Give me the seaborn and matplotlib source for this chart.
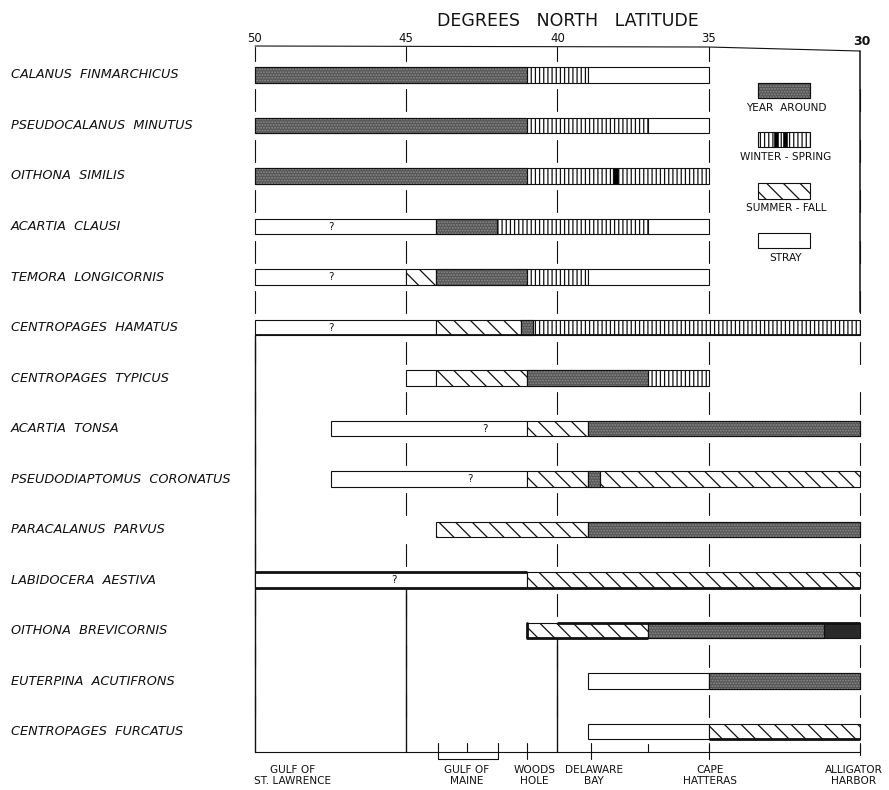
import matplotlib
matplotlib.use("Agg")
import matplotlib.pyplot as plt
import seaborn as sns
import pandas as pd

# ---------------- data ----------------
species = ["CALANUS  FINMARCHICUS", "PSEUDOCALANUS  MINUTUS", "OITHONA  SIMILIS",
           "ACARTIA  CLAUSI", "TEMORA  LONGICORNIS", "CENTROPAGES  HAMATUS",
           "CENTROPAGES  TYPICUS", "ACARTIA  TONSA", "PSEUDODIAPTOMUS  CORONATUS",
           "PARACALANUS  PARVUS", "LABIDOCERA  AESTIVA", "OITHONA  BREVICORNIS",
           "EUTERPINA  ACUTIFRONS", "CENTROPAGES  FURCATUS"]
# latitude boundaries of each segment (north -> south)
breaks = [
    [50, 41, 39, 35],
    [50, 41, 37, 35],
    [50, 41, 38.17, 38.0, 35],
    [50, 44, 42, 37, 35],
    [50, 45, 44, 41, 39, 35],
    [50, 44, 41.2, 40.8, 30],
    [45, 44, 41, 37, 35],
    [47.5, 41, 39, 30],
    [47.5, 41, 39, 38.6, 30],
    [44, 39, 30],
    [50, 41, 30],
    [41, 37, 31.2, 30],
    [39, 35, 30],
    [39, 35, 30],
]
# Y = year around, W = winter-spring, F = summer-fall, S = stray, K = peak (black), D = dark year around
kinds = [
    ["Y", "W", "S"],
    ["Y", "W", "S"],
    ["Y", "W", "K", "W"],
    ["S", "Y", "W", "S"],
    ["S", "F", "Y", "W", "S"],
    ["S", "F", "Y", "W"],
    ["S", "F", "Y", "W"],
    ["S", "F", "Y"],
    ["S", "F", "Y", "F"],
    ["F", "Y"],
    ["S", "F"],
    ["F", "Y", "D"],
    ["S", "Y"],
    ["S", "F"],
]
q_rows = [3, 4, 5, 7, 8, 10]
q_lats = [47.5, 47.5, 47.5, 42.4, 42.9, 45.4]

lat_ticks = [50, 45, 40, 35, 30]
loc_names = ["GULF OF\nST. LAWRENCE", "GULF OF\nMAINE", "WOODS\nHOLE",
             "DELAWARE\nBAY", "CAPE\nHATTERAS", "ALLIGATOR\nHARBOR"]
loc_lats = [50, 43.0, 41.0, 38.9, 35.0, 30.0]
loc_label_lats = [48.75, 43.0, 40.75, 38.8, 34.95, 30.2]

legend_labels = ["YEAR  AROUND", "WINTER - SPRING", "SUMMER - FALL", "STRAY"]
legend_kinds = ["Y", "W", "F", "S"]

# ---------------- style ----------------
sns.set_theme(style="white")
plt.rcParams["font.family"] = ["DejaVu Sans"]
plt.rcParams["hatch.linewidth"] = 0.9

styles = {
    "Y": dict(color="#555555", hatch=None),
    "W": dict(color="white", hatch="||||"),
    "F": dict(color="white", hatch="\\\\"),
    "S": dict(color="white", hatch=None),
    "K": dict(color="black", hatch=None),
    "D": dict(color="#2a2a2a", hatch=None),
}

rows = []
for r, (b, k) in enumerate(zip(breaks, kinds)):
    for i, kind in enumerate(k):
        rows.append(dict(row=r, start=b[i], end=b[i + 1], kind=kind))
seg = pd.DataFrame(rows)

fig = plt.figure(figsize=(8.89, 7.90), dpi=100)
ax = fig.add_axes([0, 0, 1, 1])
ax.set_xlim(58.43, 29.04)
ax.set_ylim(14.158, -1.485)
ax.axis("off")

BH = 0.30
LW = 0.8
ink = "#111111"


def draw_segment(r, start, end, kind, z=3):
    st = styles[kind]
    ax.barh(r, end - start, left=start, height=BH, color=st["color"],
            hatch=st["hatch"], edgecolor=ink, linewidth=LW, zorder=z)
    if kind == "Y":
        # stippled texture
        ax.barh(r, end - start, left=start, height=BH, color="none",
                hatch="......", edgecolor="#8c8c8c", linewidth=0, zorder=z + 0.1)
        ax.barh(r, end - start, left=start, height=BH, color="none",
                edgecolor=ink, linewidth=LW, zorder=z + 0.2)


for _, s in seg.iterrows():
    draw_segment(s.row, s.start, s.end, s.kind)

# thick edges
thick = [(10, 50, 41, -1), (10, 50, 30, 1), (11, 40, 30, -1), (11, 41, 37, 1),
         (13, 35, 30, 1), (5, 50, 30, 1)]
for r, a, b, side in thick:
    ax.plot([a, b], [r + side * BH / 2] * 2, color=ink, lw=2.0 if r != 5 else 1.3,
            zorder=4, solid_capstyle="butt")
ax.plot([41, 41], [11 - BH / 2, 11 + BH / 2], color=ink, lw=2.0, zorder=4)

# question marks
for r, q in zip(q_rows, q_lats):
    ax.text(q, r, "?", ha="center", va="center", fontsize=7.5, color=ink, zorder=5)

# species labels
for r, name in enumerate(species):
    ax.text(58.07, r, name, ha="left", va="center", fontsize=9.3, style="italic",
            color=ink)

# grid segments between bars
top_line_y = [-0.574, -0.554, -0.475]
ax.plot([50, 35, 30], top_line_y, color=ink, lw=LW)
for lat in [50, 45, 40, 35]:
    ax.plot([lat, lat], [-0.56, -0.28], color=ink, lw=LW)
for i in range(13):
    for lat in lat_ticks:
        ax.plot([lat, lat], [i + 0.28, i + 0.72], color=ink, lw=LW, zorder=1)
axis_y = 13.406
ax.plot([30, 30], [-0.475, 4.69], color=ink, lw=1.1)
ax.plot([50, 50], [5.15, axis_y], color=ink, lw=1.0)
ax.plot([45, 45], [10.15, axis_y], color=ink, lw=1.0)
ax.plot([40, 40], [11.15, axis_y], color=ink, lw=1.0)
for lat in [35, 30]:
    ax.plot([lat, lat], [13.15 + 0.12, axis_y], color=ink, lw=LW)

# bottom geographic axis
ax.plot([50, 30], [axis_y, axis_y], color=ink, lw=LW)
for lat in [43.95, 41.95]:
    ax.plot([lat, lat], [13.22, 13.54], color=ink, lw=LW)
ax.plot([43.95, 41.95], [13.54, 13.54], color=ink, lw=LW)
ax.plot([43.0, 43.0], [13.22, axis_y], color=ink, lw=LW)
for lat in loc_lats[2:5]:
    ax.plot([lat, lat], [13.22, 13.54], color=ink, lw=LW)
ax.plot([37.0, 37.0], [13.25, axis_y], color=ink, lw=LW)
ax.plot([30, 30], [13.22, 13.46], color=ink, lw=LW)
for name, lat in zip(loc_names, loc_label_lats):
    ax.text(lat, 13.87, name, ha="center", va="center", fontsize=7.6,
            linespacing=1.05, color=ink)

# top scale
for lat in lat_ticks:
    ax.text(lat if lat != 30 else 29.95, -0.73 if lat != 30 else -0.67, str(lat),
            ha="center", va="center", fontsize=8.5 if lat != 30 else 9,
            fontweight="normal" if lat != 30 else "bold", color=ink)
ax.text(39.65, -1.07, "DEGREES   NORTH   LATITUDE", ha="center", va="center",
        fontsize=12.5, color=ink)

# legend
leg_rows = [0.307, 1.277, 2.297, 3.277]
for lab, kind, ry in zip(legend_labels, legend_kinds, leg_rows):
    draw_segment(ry, 33.37, 31.65, kind)
    ax.text(32.45, ry + 0.34, lab, ha="center", va="center", fontsize=7.6, color=ink)
for a, b in [(32.84, 32.71), (32.55, 32.41)]:
    ax.barh(leg_rows[1], b - a, left=a, height=BH, color="black", edgecolor=ink,
            linewidth=0.5, zorder=4)

fig.savefig("out.png", dpi=100)
